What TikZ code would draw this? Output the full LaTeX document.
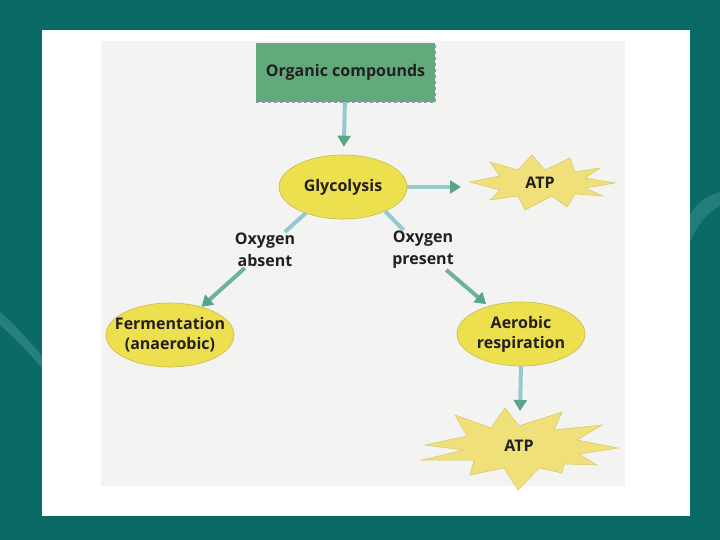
\documentclass[tikz,border=0pt]{standalone}
\usepackage{fontspec}
\setmainfont{Open Sans}
\usetikzlibrary{shapes.geometric,arrows.meta}
\definecolor{slidebg}{HTML}{0A6B66}
\definecolor{slidelight}{HTML}{5FA8A4}
\definecolor{scan}{HTML}{F3F3F1}
\definecolor{boxgreen}{HTML}{62A97B}
\definecolor{boxedge}{HTML}{9C8FB8}
\definecolor{ellyellow}{HTML}{EDE04E}
\definecolor{elledge}{HTML}{C9B94A}
\definecolor{staryellow}{HTML}{F0E079}
\definecolor{staredge}{HTML}{DDC96A}
\definecolor{shaftblue}{HTML}{96C8D2}
\definecolor{headgreen}{HTML}{58A68A}
\definecolor{diaggreen}{HTML}{6DB39C}
\definecolor{txt}{HTML}{231F20}
\begin{document}
\begin{tikzpicture}[x=1pt,y=-1pt,
  font=\bfseries\fontsize{16}{20}\selectfont,
  every node/.style={text=txt},
  oval/.style={ellipse, fill=ellyellow, draw=elledge, line width=0.6pt,
    align=center, minimum width=128pt, minimum height=64pt,
    inner xsep=-10pt, inner ysep=2pt},
  starfill/.style={fill=staryellow, draw=staredge, line width=0.6pt, line join=miter},
  lbl/.style={align=center, inner sep=1pt, font=\bfseries\fontsize{16}{22}\selectfont},
  tipg/.style={-{Triangle[length=11pt,width=13pt,color=headgreen,fill=headgreen]}},
  flow/.style={draw=shaftblue, line width=4pt, tipg},
  diag/.style={draw=diaggreen, line width=4pt, tipg},
  plain/.style={draw=shaftblue, line width=4pt}
]
\useasboundingbox (0,0) rectangle (720,540);
% slide background
\fill[slidebg] (0,0) rectangle (720,540);
\fill[slidelight, opacity=0.35] (0,312) .. controls (15,325) and (30,342) .. (42,356)
  -- (42,368) .. controls (30,354) and (15,338) .. (0,325) -- cycle;
\fill[slidelight, opacity=0.3] (720,192) .. controls (705,196) and (695,205) .. (690,215)
  -- (690,242) .. controls (697,225) and (708,212) .. (720,206) -- cycle;
% white card and scanned area
\fill[white] (42,30) rectangle (690,516);
\fill[scan] (101,41) rectangle (625,486);

% star centres
\coordinate (c1) at (540,183);
\coordinate (c2) at (519,446);
\draw[starfill, shift={(c1)}]
  (-8,-28) -- (5,-13) -- (30,-25) -- (35,-11) -- (60,-15) -- (45,-5) -- (75,0)
  -- (45,5) -- (63,13) -- (35,11) -- (27,24) -- (12,13) -- (-15,27) -- (-22,13)
  -- (-50,17) -- (-40,7) -- (-70,-1) -- (-40,-7) -- (-50,-21) -- (-22,-13) -- cycle;
\draw[starfill, shift={(c2)}]
  (-14,-38) -- (0,-20) -- (43,-34) -- (35,-16) -- (83,-21) -- (58,-6) -- (99,2)
  -- (60,8) -- (78,19) -- (45,18) -- (43,27) -- (20,22) -- (-1,44) -- (-15,22)
  -- (-49,29) -- (-45,14) -- (-97,14) -- (-55,4) -- (-94,-1) -- (-52,-10)
  -- (-64,-31) -- (-28,-18) -- cycle;

% nodes
\node[rectangle, fill=boxgreen, minimum width=179pt, minimum height=59pt, inner sep=0pt]
  (org) at (345.5,72.5) {Organic compounds};
\draw[boxedge, dashed, line width=0.8pt] (org.south west) -- (org.south east) -- (org.north east);
\node[oval] (gly) at (343,187) {Glycolysis};
\node (atp1) at (c1) {ATP};
\node[lbl] (lA) at (265,250) {Oxygen\\absent};
\node[lbl] (lP) at (423,250) {Oxygen\\present};
\node[oval] (ferm) at (170,335) {Fermentation\\(anaerobic)};
\node[oval] (aer) at (521,334) {Aerobic\\respiration};
\node (atp2) at (c2) {ATP};
\coordinate (atp1w) at (461,187);
\coordinate (atp2n) at (520,411);

% connectors
\draw[flow, shorten >=8pt] (org) -- (gly);
\draw[flow] (gly.east) -- (atp1w);
\draw[plain] (gly.215) -- (lA);
\draw[plain] (gly.330) -- (lP);
\draw[diag] (lA) -- (ferm);
\draw[diag, shorten >=3pt] (lP) -- (aer);
\draw[flow] (aer.south) -- (atp2n);
\end{tikzpicture}
\end{document}
